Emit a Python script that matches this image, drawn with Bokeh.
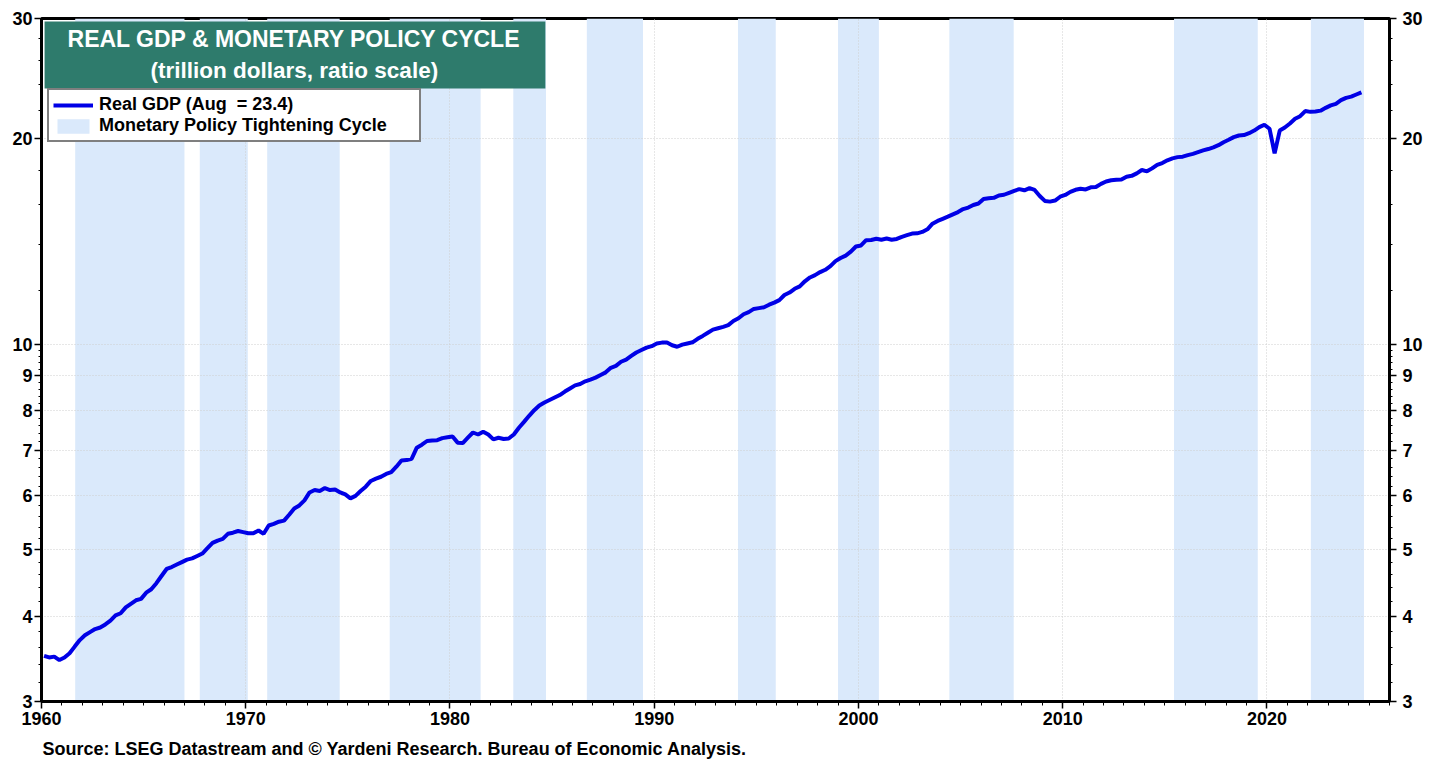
from bokeh.plotting import figure
from bokeh.models import (Range1d, FixedTicker, LogAxis, PrintfTickFormatter, BoxAnnotation,
                          Label, Legend, LegendItem, Title, ColumnDataSource)
from bokeh.embed import file_html
from bokeh.resources import INLINE

# ---------------- data ----------------
first_year = 1960
# Real GDP, trillion dollars (quarterly), 1960Q1 .. 2024Q3
real_gdp = [
    3.50, 3.48, 3.49, 3.45,   # 1960
    3.48, 3.53, 3.61, 3.69,   # 1961
    3.75, 3.79, 3.83, 3.85,   # 1962
    3.89, 3.94, 4.01, 4.04,   # 1963
    4.12, 4.17, 4.22, 4.24,   # 1964
    4.33, 4.38, 4.47, 4.58,   # 1965
    4.69, 4.72, 4.76, 4.80,   # 1966
    4.84, 4.86, 4.90, 4.94,   # 1967
    5.03, 5.12, 5.16, 5.19,   # 1968
    5.28, 5.30, 5.33, 5.31,   # 1969
    5.29, 5.29, 5.34, 5.28,   # 1970
    5.43, 5.46, 5.50, 5.52,   # 1971
    5.63, 5.75, 5.81, 5.91,   # 1972
    6.07, 6.12, 6.10, 6.16,   # 1973
    6.12, 6.13, 6.07, 6.03,   # 1974
    5.95, 6.00, 6.10, 6.19,   # 1975
    6.31, 6.36, 6.40, 6.46,   # 1976
    6.50, 6.62, 6.76, 6.77,   # 1977
    6.80, 7.06, 7.13, 7.22,   # 1978
    7.23, 7.24, 7.29, 7.31,   # 1979
    7.33, 7.18, 7.17, 7.30,   # 1980
    7.43, 7.38, 7.45, 7.38,   # 1981
    7.26, 7.30, 7.27, 7.28,   # 1982
    7.38, 7.55, 7.70, 7.86,   # 1983
    8.01, 8.14, 8.22, 8.29,   # 1984
    8.36, 8.43, 8.53, 8.62,   # 1985
    8.71, 8.75, 8.83, 8.88,   # 1986
    8.94, 9.02, 9.10, 9.24,   # 1987
    9.30, 9.43, 9.50, 9.62,   # 1988
    9.73, 9.81, 9.89, 9.94,   # 1989
    10.03, 10.06, 10.06, 9.97,   # 1990
    9.92, 9.99, 10.03, 10.07,    # 1991
    10.19, 10.29, 10.40, 10.51,  # 1992
    10.56, 10.61, 10.67, 10.82,  # 1993
    10.92, 11.07, 11.15, 11.27,  # 1994
    11.30, 11.33, 11.43, 11.51,  # 1995
    11.61, 11.81, 11.91, 12.06,  # 1996
    12.16, 12.37, 12.53, 12.63,  # 1997
    12.76, 12.86, 13.02, 13.24,  # 1998
    13.38, 13.49, 13.67, 13.91,  # 1999
    13.96, 14.21, 14.22, 14.28,  # 2000
    14.23, 14.29, 14.23, 14.27,  # 2001
    14.37, 14.45, 14.53, 14.54,  # 2002
    14.61, 14.74, 15.02, 15.16,  # 2003
    15.27, 15.38, 15.50, 15.62,  # 2004
    15.78, 15.86, 16.00, 16.08,  # 2005
    16.33, 16.37, 16.39, 16.52,  # 2006
    16.56, 16.67, 16.78, 16.88,  # 2007
    16.81, 16.93, 16.83, 16.49,  # 2008
    16.22, 16.18, 16.24, 16.45,  # 2009
    16.55, 16.72, 16.84, 16.90,  # 2010
    16.86, 16.98, 17.00, 17.18,  # 2011
    17.32, 17.39, 17.42, 17.44,  # 2012
    17.60, 17.65, 17.80, 18.00,  # 2013
    17.92, 18.10, 18.32, 18.43,  # 2014
    18.60, 18.72, 18.80, 18.83,  # 2015
    18.93, 19.01, 19.12, 19.23,  # 2016
    19.32, 19.43, 19.57, 19.77,  # 2017
    19.93, 20.11, 20.22, 20.25,  # 2018
    20.38, 20.56, 20.80, 20.97,  # 2019
    20.69, 19.04, 20.56, 20.77,  # 2020
    21.06, 21.39, 21.58, 21.96,  # 2021
    21.90, 21.92, 21.99, 22.20,  # 2022
    22.38, 22.50, 22.78, 22.96,  # 2023
    23.05, 23.22, 23.39,         # 2024
]

# Monetary policy tightening cycles (decimal years)
tight_start = [1961.65, 1967.75, 1971.05, 1977.05, 1983.10, 1986.70, 1994.10, 1999.00, 2004.45, 2015.45, 2022.15]
tight_end   = [1967.00, 1970.10, 1974.60, 1981.50, 1984.70, 1989.45, 1995.95, 2001.00, 2007.60, 2019.55, 2024.75]

y_major = [3, 4, 5, 6, 7, 8, 9, 10, 20, 30]
x_major = [1960, 1970, 1980, 1990, 2000, 2010, 2020]

# quarter mid-points
dates = [first_year + i // 4 + (i % 4) * 0.25 + 0.125 for i in range(len(real_gdp))]

# ---------------- figure ----------------
FONT = "Liberation Sans"
BAND = "#DAE9FB"
LINE = "#0000E6"

p = figure(frame_width=1348, frame_height=683,
           x_range=Range1d(1960, 2026), y_range=Range1d(3, 30),
           y_axis_type="log", output_backend="svg", toolbar_location=None,
           min_border_left=41, min_border_right=52, min_border_top=18, min_border_bottom=40)

p.outline_line_color = "black"
p.outline_line_width = 3
p.background_fill_color = "white"
p.border_fill_color = "white"

bands = p.quad(left=tight_start, right=tight_end, bottom=3, top=30,
               fill_color=BAND, line_color=None, level="underlay")
src = ColumnDataSource(dict(x=dates, y=real_gdp))
gdp_line = p.line("x", "y", source=src, line_color=LINE, line_width=4, level="annotation")

# grids
p.ygrid.ticker = FixedTicker(ticks=y_major[1:-1])
p.xgrid.ticker = FixedTicker(ticks=x_major[1:])
for g in (p.xgrid, p.ygrid):
    g.grid_line_color = "#cfcfcf"
    g.grid_line_dash = "1 2"
    g.grid_line_width = 1
    g.level = "glyph"

y_minor = [round(3 + 0.2 * k, 1) for k in range(1, 35) if round(3 + 0.2 * k, 1) not in y_major] + \
          [12, 14, 16, 18, 22, 24, 26, 28]

def style_axis(ax):
    ax.axis_line_width = 3
    ax.axis_line_color = "black"
    ax.major_tick_line_color = "black"
    ax.minor_tick_line_color = "black"
    ax.major_tick_line_width = 1.5
    ax.minor_tick_line_width = 1
    ax.major_tick_in = 0
    ax.minor_tick_in = 0
    ax.major_label_text_font = FONT
    ax.major_label_text_font_style = "bold"
    ax.major_label_text_color = "black"

yax = p.yaxis[0]
yax.ticker = FixedTicker(ticks=y_major, minor_ticks=y_minor)
yax.formatter = PrintfTickFormatter(format="%d")
style_axis(yax)
yax.major_tick_out = 7
yax.minor_tick_out = 3
yax.major_label_standoff = 2
yax.major_label_text_font_size = "18px"

ry = LogAxis(ticker=FixedTicker(ticks=y_major, minor_ticks=y_minor),
             formatter=PrintfTickFormatter(format="%d"))
style_axis(ry)
ry.major_tick_out = 7
ry.minor_tick_out = 3
ry.major_label_standoff = 6
ry.major_label_text_font_size = "18px"
p.add_layout(ry, "right")

xax = p.xaxis[0]
xax.ticker = FixedTicker(ticks=x_major, minor_ticks=list(range(1960, 2027)))
style_axis(xax)
xax.major_tick_out = 7
xax.minor_tick_out = 4
xax.major_label_standoff = 3
xax.major_label_text_font_size = "18px"

# title box
p.add_layout(BoxAnnotation(left=1960.15, right=1984.67, bottom=23.69, top=29.7,
                           fill_color="#2E7B6C", fill_alpha=1, line_color=None, level="annotation"))
p.add_layout(Label(x=1972.38, y=27.95, text="REAL GDP & MONETARY POLICY CYCLE",
                   text_align="center", text_baseline="middle", text_color="white",
                   text_font=FONT, text_font_style="bold", text_font_size="23px", level="overlay"))
p.add_layout(Label(x=1972.38, y=25.15, text="(trillion dollars, ratio scale)",
                   text_align="center", text_baseline="middle", text_color="white",
                   text_font=FONT, text_font_style="bold", text_font_size="22.5px", level="overlay"))

legend = Legend(items=[LegendItem(label="Real GDP (Aug  = 23.4)", renderers=[gdp_line]),
                       LegendItem(label="Monetary Policy Tightening Cycle", renderers=[bands])],
                location=(6, 559), orientation="vertical")
legend.label_text_font = FONT
legend.label_text_font_style = "bold"
legend.label_text_font_size = "18px"
legend.label_text_color = "black"
legend.glyph_width = 40
legend.glyph_height = 18
legend.label_height = 18
legend.label_width = 316
legend.label_standoff = 6
legend.spacing = 0
legend.padding = 4
legend.margin = 0
legend.border_line_color = "black"
legend.border_line_width = 2
legend.background_fill_color = "white"
legend.background_fill_alpha = 1
p.add_layout(legend)

src_title = Title(text="Source: LSEG Datastream and \u00a9 Yardeni Research. Bureau of Economic Analysis.",
                  align="left", text_font=FONT, text_font_style="bold", text_font_size="18px",
                  text_color="black", offset=1, standoff=19)
p.add_layout(src_title, "below")

open("out.html", "w").write(file_html(p, INLINE))
